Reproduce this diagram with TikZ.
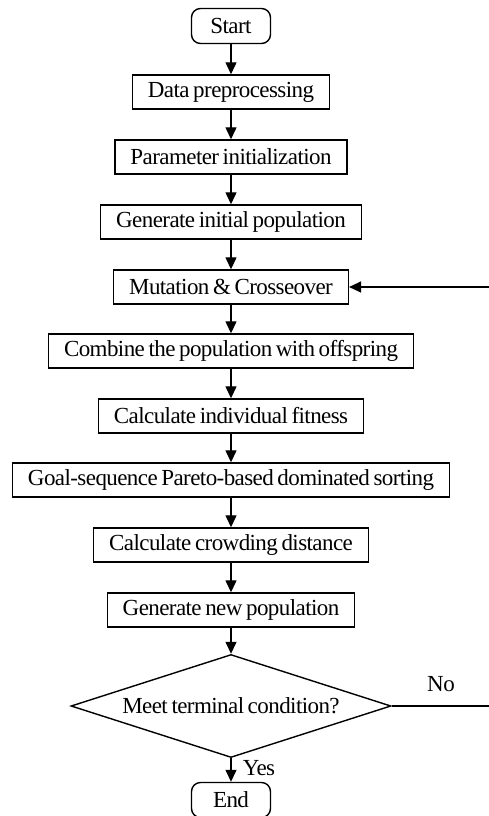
\documentclass[tikz,border=0pt]{standalone}
\usepackage{fontspec}
\setmainfont{Liberation Serif}[LetterSpace=-2.5,WordSpace=0.7]
\usetikzlibrary{arrows.meta,shapes.geometric}
\begin{document}
\begin{tikzpicture}[x=1pt,y=-1pt,
  every node/.style={font=\fontsize{23}{26}\selectfont},
  procbox/.style={draw,line width=1.4pt,inner xsep=15.5pt,inner ysep=0pt,minimum height=34pt},
  termbox/.style={draw,line width=1.4pt,rounded corners=9pt,inner xsep=0pt,inner ysep=0pt,minimum height=35pt,minimum width=79pt},
  decbox/.style={draw,line width=1.4pt,shape=diamond,shape aspect=3.1,inner sep=0pt,minimum width=320pt,minimum height=103pt},
  arr/.style={line width=1.3pt,-{Triangle[length=12pt,width=11pt]}},
  lbl/.style={inner sep=0pt}]
\useasboundingbox (0,0) rectangle (489,816);
\node[termbox] (start) at (231,26) {Start};
\node[procbox] (data) at (231,92) {Data preprocessing};
\node[procbox] (param) at (231,157) {Parameter initialization};
\node[procbox] (gen) at (231,222) {Generate initial population};
\node[procbox] (mut) at (231,287) {Mutation \& Crosseover};
\node[procbox] (comb) at (231,351) {Combine the population with offspring};
\node[procbox] (fit) at (231,416) {Calculate individual fitness};
\node[procbox] (goal) at (231,480) {Goal-sequence Pareto-based dominated sorting};
\node[procbox] (crowd) at (231,545) {Calculate crowding distance};
\node[procbox] (newpop) at (231,610) {Generate new population};
\node[decbox] (dec) at (231,706) {Meet terminal condition?};
\node[termbox] (end) at (231,800) {End};
\node[lbl] (yes) at (259,768) {Yes};
\node[lbl] (no) at (441,684) {No};
\coordinate (r1) at (492,706);
\coordinate (r2) at (492,287);
\draw[arr] (start) -- (data);
\draw[arr] (data) -- (param);
\draw[arr] (param) -- (gen);
\draw[arr] (gen) -- (mut);
\draw[arr] (mut) -- (comb);
\draw[arr] (comb) -- (fit);
\draw[arr] (fit) -- (goal);
\draw[arr] (goal) -- (crowd);
\draw[arr] (crowd) -- (newpop);
\draw[arr] (newpop) -- (dec);
\draw[arr] (dec) -- (end);
\draw[arr] (dec.east) -- (r1) -- (r2) -- (mut.east);
\end{tikzpicture}
\end{document}
